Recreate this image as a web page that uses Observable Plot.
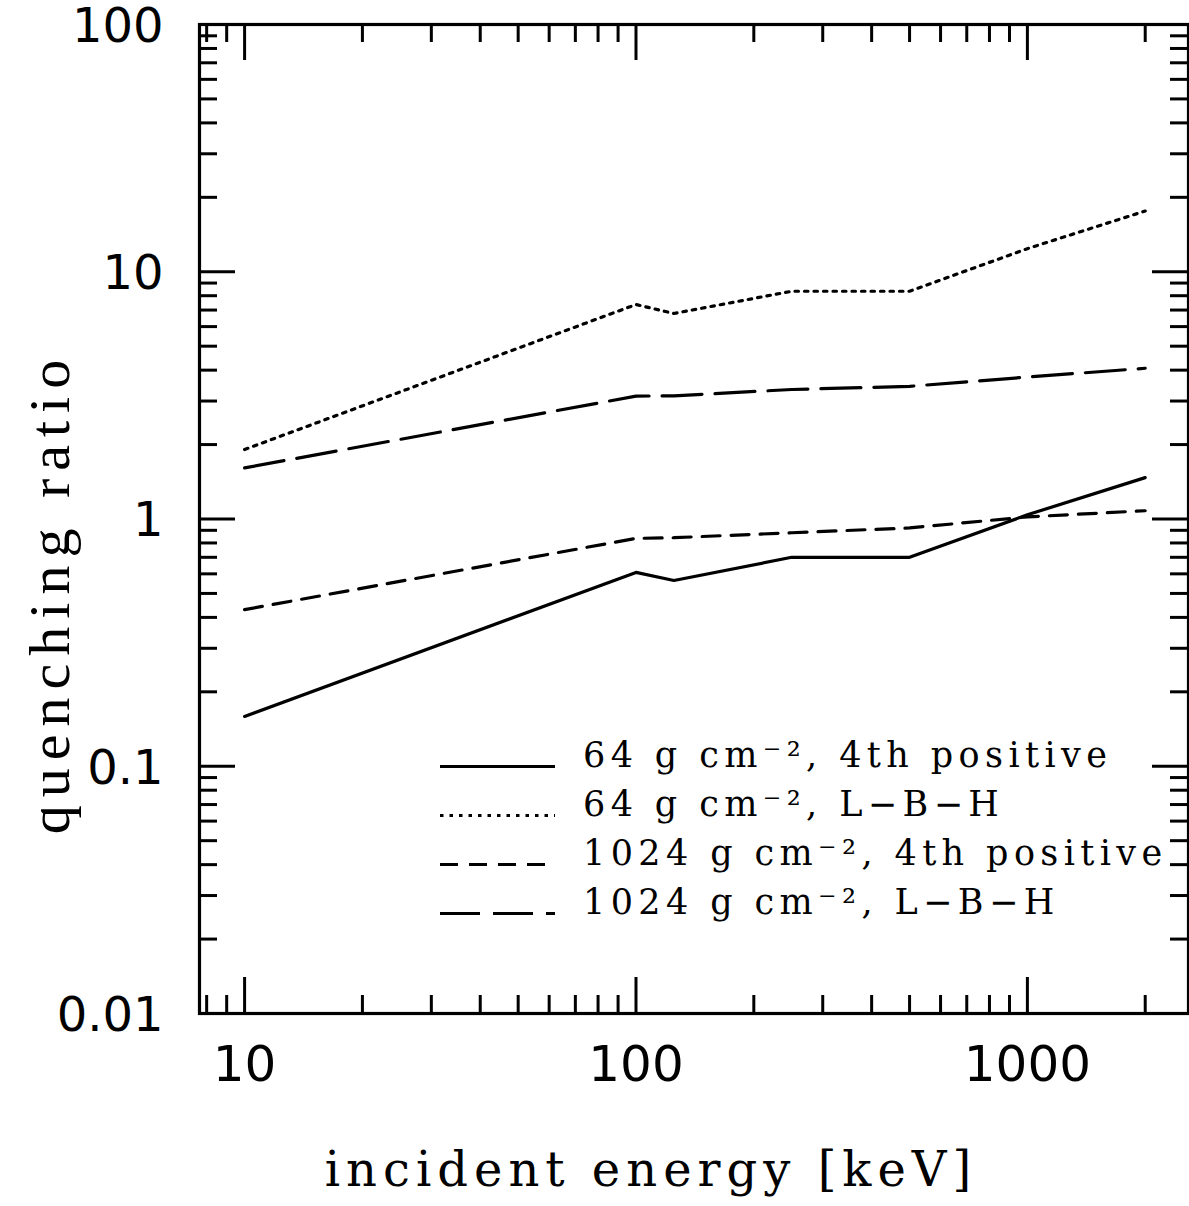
<!DOCTYPE html>
<html>
<head>
<meta charset="utf-8">
<script src="https://cdn.jsdelivr.net/npm/d3@7"></script>
<script src="https://cdn.jsdelivr.net/npm/@observablehq/plot@0.6"></script>
<style>
  html, body { margin: 0; padding: 0; background: #fff; }
  #wrap { position: relative; width: 1189px; height: 1206px; }
  #wrap svg { display: block; }
  #legend { position: absolute; left: 0; top: 0; pointer-events: none; }
</style>
</head>
<body>
<div id="wrap"></div>
<script>
// ---- data ----
const energies = [10, 100, 125, 250, 500, 1000, 2000];
const q64_4th  = [0.159, 0.608, 0.564, 0.70, 0.70, 1.04, 1.47];
const q64_lbh  = [1.91, 7.37, 6.78, 8.34, 8.34, 12.4, 17.6];
const q1024_4th = [0.43, 0.835, 0.84, 0.88, 0.92, 1.02, 1.08];
const q1024_lbh = [1.61, 3.14, 3.15, 3.34, 3.44, 3.75, 4.07];
const seriesNames = [
  "64 g cm\u207B\u00B2, 4th positive",
  "64 g cm\u207B\u00B2, L\u2212B\u2212H",
  "1024 g cm\u207B\u00B2, 4th positive",
  "1024 g cm\u207B\u00B2, L\u2212B\u2212H"
];
const seriesDash = ["none", "3.5,6", "18,11", "40,13"];
const xMajor = [10, 100, 1000];
const xMinor = [8, 9, 20, 30, 40, 50, 60, 70, 80, 90, 200, 300, 400, 500, 600, 700, 800, 900, 2000];
const yMajor = [0.01, 0.1, 1, 10, 100];
const yMajorLabels = ["0.01", "0.1", "1", "10", "100"];
const yMinor = [];
[0.01, 0.1, 1, 10].forEach(b => { for (let k = 2; k <= 9; k++) yMinor.push(+(b * k).toPrecision(3)); });
const xTitle = "incident energy [keV]";
const yTitle = "quenching ratio";

// ---- layout ----
const W = 1189, H = 1206;
const mL = 199, mR = 1, mT = 24, mB = 193;
const fw = W - mL - mR, fh = H - mT - mB;
const major = 36, minor = 18;

const seriesVals = [q64_4th, q64_lbh, q1024_4th, q1024_lbh];
const lineMarks = seriesVals.map((vals, i) =>
  Plot.line(energies.map((e, j) => ({e, v: vals[j]})), {
    x: "e", y: "v", stroke: "black", strokeWidth: 3.2,
    strokeDasharray: seriesDash[i] === "none" ? null : seriesDash[i]
  })
);

const tickStyle = {stroke: "black", strokeWidth: 3};
const plot = Plot.plot({
  width: W, height: H,
  marginLeft: mL, marginRight: mR, marginTop: mT, marginBottom: mB,
  x: {type: "log", domain: [7.67, 2580], axis: null},
  y: {type: "log", domain: [0.01, 100], axis: null},
  style: {background: "white", color: "black"},
  marks: [
    // bottom & top ticks
    Plot.ruleX(xMajor, {x: d => d, insetTop: fh - major, ...tickStyle}),
    Plot.ruleX(xMinor, {x: d => d, insetTop: fh - minor, ...tickStyle}),
    Plot.ruleX(xMajor, {x: d => d, insetBottom: fh - major, ...tickStyle}),
    Plot.ruleX(xMinor, {x: d => d, insetBottom: fh - minor, ...tickStyle}),
    // left & right ticks
    Plot.ruleY(yMajor, {y: d => d, insetRight: fw - major, ...tickStyle}),
    Plot.ruleY(yMinor, {y: d => d, insetRight: fw - minor, ...tickStyle}),
    Plot.ruleY(yMajor, {y: d => d, insetLeft: fw - major, ...tickStyle}),
    Plot.ruleY(yMinor, {y: d => d, insetLeft: fw - minor, ...tickStyle}),
    ...lineMarks,
    Plot.frame({stroke: "black", strokeWidth: 3.2}),
    // tick labels
    Plot.text(xMajor, {x: d => d, frameAnchor: "bottom", dy: 51, text: d => String(d),
      fontSize: 50, fontFamily: "DejaVu Sans", fill: "black", textAnchor: "middle", lineAnchor: "middle"}),
    Plot.text(yMajor, {y: d => d, frameAnchor: "left", dx: -36, dy: 2, text: (d, i) => yMajorLabels[i],
      textAnchor: "end", fontSize: 48, fontFamily: "DejaVu Sans", fill: "black", lineAnchor: "middle"}),
    // axis titles
    Plot.text([xTitle], {frameAnchor: "bottom", dx: -43, dy: 157, text: d => d,
      fontSize: 48, fontFamily: "DejaVu Serif", fill: "black", textAnchor: "middle", lineAnchor: "middle"}),
    Plot.text([yTitle], {frameAnchor: "left", dx: -149, dy: 74, text: d => d, rotate: -90,
      fontSize: 58, fontFamily: "Liberation Serif", fill: "black", textAnchor: "middle", lineAnchor: "middle"})
  ]
});
document.getElementById("wrap").appendChild(plot);

// letter spacing for titles
d3.select(plot).selectAll("text").each(function() {
  const t = this.textContent;
  if (t === xTitle) this.setAttribute("letter-spacing", "6");
  if (t === yTitle) this.setAttribute("letter-spacing", "8");
});

// ---- legend overlay ----
const leg = d3.select("#wrap").append("svg").attr("id", "legend")
  .attr("width", W).attr("height", H);
const rowY = [766.5, 815.5, 864.5, 913.5];
seriesNames.forEach((name, i) => {
  leg.append("line").attr("x1", 440).attr("x2", 555).attr("y1", rowY[i]).attr("y2", rowY[i])
    .attr("stroke", "black").attr("stroke-width", 3)
    .attr("stroke-dasharray", seriesDash[i] === "none" ? null : seriesDash[i]);
  leg.append("text").attr("x", 583).attr("y", rowY[i])
    .attr("font-family", "DejaVu Serif").attr("font-size", 35).attr("letter-spacing", 5.4)
    .attr("fill", "black").text(name);
});
</script>
</body>
</html>
